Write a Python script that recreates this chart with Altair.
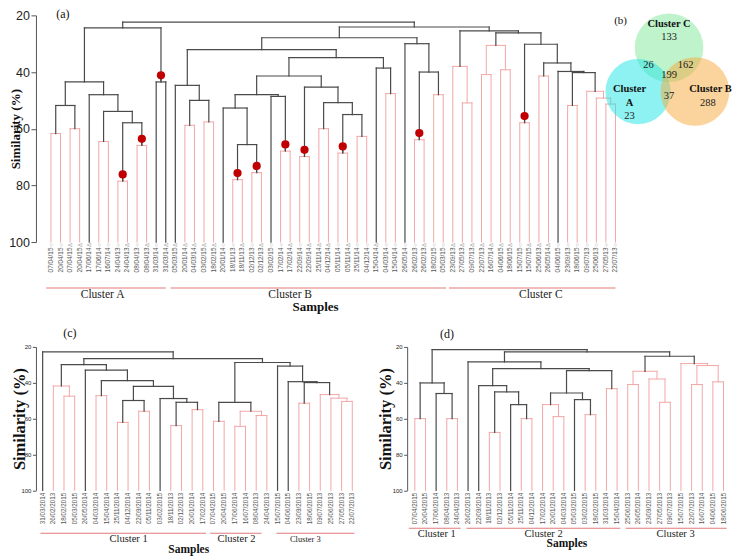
import math
import altair as alt
import pandas as pd

SERIF = "Liberation Serif"
SANS = "Liberation Sans"
DARK = "#4a4a4a"
PINK = "#f2a7a7"
RED = "#c00000"
LINE_RED = "#e07a7a"
AX = "#555555"

# ---------------- panel (a) data ----------------
A_DATES = ["07/04/15", "20/04/15", "07/04/15", "20/04/15", "17/06/14", "17/06/14", "16/07/14",
           "24/04/13", "24/04/13", "08/04/13", "08/04/13", "31/03/14", "31/03/14",
           "05/03/15", "20/01/14", "04/03/14", "03/02/15", "18/02/15", "20/01/14", "18/11/13",
           "18/11/13", "02/12/13", "02/12/13", "03/02/15", "17/02/14", "17/02/14", "22/09/14",
           "22/09/14", "25/11/14", "04/12/14", "05/11/14", "05/11/14", "25/11/14", "04/12/14",
           "15/04/14", "04/03/14", "15/04/14", "26/05/14", "26/02/13", "26/02/13", "18/02/15",
           "05/03/15",
           "23/09/13", "27/05/13", "09/07/13", "22/07/13", "16/07/14", "04/06/15", "18/06/15",
           "15/07/15", "15/07/15", "25/06/13", "26/05/14", "04/06/15", "23/09/13", "18/06/15",
           "09/07/13", "25/06/13", "27/05/13", "22/07/13"]
A_MARKS = list("ooDDDoooDoDoD" "DDDDDooDoDooDoDDDoDooDooooDoo" "DDDDDDDoDDDooooooo")

# (name, left, right, similarity, colour, red dot)
A_MERGES = [
    ("a1", 0, 1, 61.7, "p", 0), ("a2", 2, 3, 60.0, "p", 0), ("a3", "a1", "a2", 51.8, "k", 0),
    ("a4", 5, 6, 64.5, "p", 0), ("a5", 7, 8, 78.5, "p", 1), ("a6", 9, 10, 65.9, "p", 1),
    ("a7", "a5", "a6", 57.9, "k", 0), ("a8", "a4", "a7", 53.9, "k", 0),
    ("a9", 4, "a8", 48.0, "k", 0), ("a10", "a3", "a9", 43.5, "k", 0),
    ("a11", 11, 12, 43.5, "k", 1), ("A", "a10", "a11", 24.4, "k", 0),
    ("b1", 14, 15, 58.8, "p", 0), ("b2", 16, 17, 57.6, "p", 0), ("b3", "b1", "b2", 50.0, "k", 0),
    ("b4", 13, "b3", 44.7, "k", 0), ("b5", 19, 20, 78.0, "p", 1), ("b6", 21, 22, 75.5, "p", 1),
    ("b7", "b5", "b6", 65.6, "k", 0), ("b8", 18, "b7", 52.7, "k", 0),
    ("b9", 24, 25, 67.9, "p", 1), ("b10", 23, "b9", 48.6, "k", 0), ("b11", "b8", "b10", 48.0, "k", 0),
    ("b12", 26, 27, 69.8, "p", 1), ("b13", 28, 29, 60.0, "p", 0), ("b14", 30, 31, 68.6, "p", 1),
    ("b15", 32, 33, 62.7, "p", 0), ("b16", "b14", "b15", 55.0, "k", 0),
    ("b17", "b13", "b16", 50.8, "k", 0), ("b18", "b12", "b17", 45.3, "k", 0),
    ("b19", "b11", "b18", 41.4, "k", 0), ("b20", 35, 36, 47.6, "p", 0),
    ("b21", 34, "b20", 38.6, "k", 0), ("b22", "b19", "b21", 34.9, "k", 0),
    ("b23", "b4", "b22", 32.1, "k", 0), ("b24", 38, 39, 63.9, "p", 1),
    ("b25", 40, 41, 48.0, "p", 0), ("b26", "b24", "b25", 40.0, "k", 0),
    ("b27", 37, "b26", 30.0, "k", 0), ("B", "b23", "b27", 27.9, "k", 0),
    ("c1", 43, 44, 50.9, "p", 0), ("c2", 42, "c1", 38.0, "p", 0), ("c3", 45, 46, 40.9, "p", 0),
    ("c4", 47, 48, 39.2, "p", 0), ("c5", "c3", "c4", 30.6, "p", 0), ("c6", 49, 50, 57.9, "p", 1),
    ("c7", 51, 52, 41.4, "p", 0), ("c8", 54, 55, 51.8, "p", 0), ("c9", 58, 59, 51.3, "p", 0),
    ("c10", 57, "c9", 49.2, "p", 0), ("c11", 56, "c10", 46.8, "p", 0),
    ("c12", "c8", "c11", 40.2, "k", 0), ("c13", 53, "c12", 39.8, "k", 0),
    ("c14", "c7", "c13", 36.8, "k", 0), ("c15", "c6", "c14", 30.2, "k", 0),
    ("c16", "c5", "c15", 26.2, "k", 0), ("C", "c2", "c16", 25.5, "k", 0),
    ("BC", "B", "C", 24.1, "k", 0), ("root", "A", "BC", 22.4, "k", 0),
]
A_CLUSTERS = ["Cluster A", "Cluster B", "Cluster C"]
A_CL_START = [-0.5, 12.5, 41.6]
A_CL_END = [12.0, 41.3, 59.0]
A_CL_TEXT = [5.4, 25.0, 51.2]

# ---------------- panel (b) data ----------------
VENN_SETS = ["Cluster C", "Cluster A", "Cluster B"]
VENN_CX = [0.05, -0.75, 0.72]
VENN_CY = [0.75, -0.38, -0.38]
VENN_R = [1.0, 0.95, 1.0]
VENN_FILL = ["#7fe89a", "#1ee6e6", "#f7a83a"]
VENN_NUM = ["133", "26", "162", "199", "23", "37", "288"]
VENN_NUM_X = [0.05, -0.48, 0.48, 0.05, -0.97, 0.05, 1.05]
VENN_NUM_Y = [1.02, 0.3, 0.3, 0.05, -1.0, -0.5, -0.68]
VENN_LAB = ["Cluster C", "Cluster", "A", "Cluster B"]
VENN_LAB_X = [0.05, -0.97, -0.97, 1.12]
VENN_LAB_Y = [1.36, -0.32, -0.67, -0.32]

# ---------------- panel (c) data ----------------
C_DATES = ["31/03/2014", "26/02/2013", "18/02/2015", "05/03/2015", "26/05/2014", "04/03/2014",
           "15/04/2014", "25/11/2014", "04/12/2014", "22/09/2014", "05/11/2014", "03/02/2015",
           "18/11/2013", "02/12/2013", "20/01/2014", "17/02/2014", "07/04/2015", "20/04/2015",
           "17/06/2014", "16/07/2014", "08/04/2013", "24/04/2013", "15/07/2015", "04/06/2015",
           "23/09/2013", "18/06/2015", "09/07/2013", "25/06/2013", "27/05/2013", "22/07/2013"]
C_MERGES = [
    ("p1", 2, 3, 47.5, "p"), ("p2", 1, "p1", 41.8, "p"), ("p3", 5, 6, 47.2, "p"),
    ("p4", 7, 8, 62.1, "p"), ("p5", 9, 10, 55.9, "p"), ("p6", "p4", "p5", 49.9, "k"),
    ("p7", 12, 13, 63.9, "p"), ("p8", 14, 15, 55.0, "p"), ("p9", "p7", "p8", 50.9, "k"),
    ("p10", 11, "p9", 48.8, "k"), ("p11", "p6", "p10", 42.0, "k"), ("p12", "p3", "p11", 38.8, "k"),
    ("p13", 4, "p12", 33.0, "k"), ("p14", "p2", "p13", 29.9, "k"),
    ("p15", 16, 17, 61.5, "p"), ("p16", 18, 19, 64.3, "p"), ("p17", 20, 21, 58.3, "p"),
    ("p18", "p16", "p17", 55.9, "p"), ("p19", "p15", "p18", 50.9, "k"),
    ("p20", 24, 25, 51.4, "p"), ("p21", 28, 29, 50.4, "p"), ("p22", 27, "p21", 48.6, "p"),
    ("p23", 26, "p22", 46.6, "p"), ("p24", "p20", "p23", 39.9, "k"), ("p25", 23, "p24", 39.4, "k"),
    ("p26", 22, "p25", 30.7, "k"), ("p27", "p19", "p26", 28.7, "k"),
    ("p28", "p14", "p27", 26.5, "k"), ("p29", 0, "p28", 22.8, "k"),
]
C_CLUSTERS = ["Cluster 1", "Cluster 2", "Cluster 3"]
C_CL_START = [-0.2, 15.7, 21.9]
C_CL_END = [15.3, 20.5, 29.2]
C_CL_TEXT = [8.05, 18.15, 24.6]
C_CL_SIZE = [10.5, 10.5, 8.5]

# ---------------- panel (d) data ----------------
D_DATES = ["07/04/2015", "20/04/2015", "17/06/2014", "08/04/2013", "24/04/2013", "26/02/2013",
           "22/09/2014", "18/11/2013", "02/12/2013", "05/11/2014", "25/11/2014", "04/12/2014",
           "17/02/2014", "20/01/2014", "04/03/2014", "05/03/2015", "03/02/2015", "18/02/2015",
           "31/03/2014", "15/04/2014", "25/06/2013", "26/05/2014", "23/09/2013", "27/05/2013",
           "09/07/2013", "15/07/2015", "22/07/2013", "16/07/2014", "04/06/2015", "18/06/2015"]
D_MERGES = [
    ("d1", 0, 1, 60.0, "p"), ("d2", 3, 4, 60.0, "p"), ("d3", 2, "d2", 46.0, "k"),
    ("d4", "d1", "d3", 40.1, "k"), ("d5", 7, 8, 67.7, "p"), ("d6", 10, 11, 60.0, "p"),
    ("d7", 9, "d6", 52.2, "k"), ("d8", "d5", "d7", 45.1, "k"), ("d9", 6, "d8", 41.6, "k"),
    ("d10", 13, 14, 58.9, "p"), ("d11", 12, "d10", 52.2, "p"), ("d12", 16, 17, 57.8, "p"),
    ("d13", 15, "d12", 49.4, "k"), ("d14", "d11", "d13", 45.7, "k"), ("d15", 18, 19, 43.3, "p"),
    ("d16", "d14", "d15", 33.2, "k"), ("d17", "d9", "d16", 32.1, "k"), ("d18", 5, "d17", 28.4, "k"),
    ("d19", 20, 21, 41.0, "p"), ("d20", 23, 24, 50.9, "p"), ("d21", 22, "d20", 37.9, "p"),
    ("d22", "d19", "d21", 33.6, "p"), ("d23", 26, 27, 41.0, "p"), ("d24", 28, 29, 39.5, "p"),
    ("d25", "d23", "d24", 30.4, "p"), ("d26", 25, "d25", 29.3, "p"),
    ("d27", "d22", "d26", 25.2, "k"), ("d28", "d18", "d27", 22.8, "k"), ("d29", "d4", "d28", 21.5, "k"),
]
D_CLUSTERS = ["Cluster 1", "Cluster 2", "Cluster 3"]
D_CL_START = [-0.56, 4.85, 19.8]
D_CL_END = [4.3, 19.3, 29.3]
D_CL_TEXT = [2.06, 12.1, 24.5]

DOT_LIFT = 2.35
SYMBOLS = {"o": "\u25cb", "D": "\u0394"}


def build_tree(merges, n):
    pos = {i: float(i) for i in range(n)}
    hgt = {i: 100.0 for i in range(n)}
    segs, dots = [], []
    for m in merges:
        name, l, r, h, col = m[:5]
        dot = m[5] if len(m) > 5 else 0
        xl, xr = pos[l], pos[r]
        segs += [dict(x=xl, x2=xr, y=h, y2=h, c=col),
                 dict(x=xl, x2=xl, y=hgt[l], y2=h, c=col),
                 dict(x=xr, x2=xr, y=hgt[r], y2=h, c=col)]
        pos[name] = (xl + xr) / 2
        hgt[name] = h
        if dot:
            dots.append(dict(x=pos[name], y=h, yd=h - DOT_LIFT))
    df = pd.DataFrame(segs)
    df["o"] = (df["c"] == "k").astype(int)
    df = df.sort_values("o", kind="stable").reset_index(drop=True)
    return df, pd.DataFrame(dots)


def y_axis(H, fs, tick, title_fs, title_x):
    return alt.Axis(values=[20, 40, 60, 80, 100], grid=False, tickSize=tick, tickColor=AX,
                    domainColor=AX, tickWidth=1, domainWidth=1, labelFont=SANS,
                    labelFontSize=fs, labelColor="#222222", labelPadding=1.5,
                    title="Similarity (%)", titleFont=SERIF, titleFontSize=title_fs,
                    titleFontWeight="bold", titleColor="#111111", titleX=title_x, titleY=H / 2,
                    titleAlign="center", titleBaseline="middle", titleAngle=270)


def tree_layers(segs, xs, ys, yax):
    return alt.Chart(segs).mark_rule(strokeCap="square").encode(
        x=alt.X("x:Q", scale=xs, axis=None), x2="x2:Q",
        y=alt.Y("y:Q", scale=ys, axis=yax), y2="y2:Q",
        color=alt.Color("c:N", scale=alt.Scale(domain=["k", "p"], range=[DARK, PINK]), legend=None),
        strokeWidth=alt.StrokeWidth("c:N", scale=alt.Scale(domain=["k", "p"], range=[1.2, 1.0]),
                                    legend=None),
    )


def cluster_layers(names, starts, ends, centers, sizes, xs, H, line_dy, text_dy):
    df = pd.DataFrame(dict(name=names, s=starts, e=ends, m=centers, fs=sizes))
    lines = alt.Chart(df).mark_rule(color=LINE_RED, strokeWidth=1.2).encode(
        x=alt.X("s:Q", scale=xs, axis=None), x2="e:Q", y=alt.value(H + line_dy))
    texts = alt.Chart(df).mark_text(font=SERIF, color="#222222", baseline="middle").encode(
        x=alt.X("m:Q", scale=xs, axis=None), y=alt.value(H + text_dy), text="name:N",
        size=alt.Size("fs:Q", scale=None, legend=None))
    return [lines, texts]


def note(text, x, y, fs, bold=False):
    return alt.Chart(pd.DataFrame({"t": [text]})).mark_text(
        font=SERIF, fontSize=fs, fontWeight="bold" if bold else "normal", color="#111111",
        baseline="middle", align="center").encode(x=alt.value(x), y=alt.value(y), text="t:N")


# ================= panel (a) + (b) =================
W_A, H_A = 587, 227
xs_a = alt.Scale(domain=[-1.566, 59.7], nice=False, zero=False)
ys_a = alt.Scale(domain=[20, 100], reverse=True, nice=False, zero=False)
yax_a = y_axis(H_A, 12.5, 5, 13, -20)
segA, dotsA = build_tree(A_MERGES, len(A_DATES))
leafA = pd.DataFrame(dict(i=range(len(A_DATES)), date=A_DATES,
                          sym=[SYMBOLS[s] for s in A_MARKS]))

a_layers = [tree_layers(segA, xs_a, ys_a, yax_a)]
a_layers.append(alt.Chart(dotsA).mark_rule(color=DARK, strokeWidth=1.2).encode(
    x=alt.X("x:Q", scale=xs_a, axis=None), y=alt.Y("y:Q", scale=ys_a, axis=yax_a), y2="yd:Q"))
a_layers.append(alt.Chart(dotsA).mark_circle(size=68, color=RED, opacity=1).encode(
    x=alt.X("x:Q", scale=xs_a, axis=None), y=alt.Y("yd:Q", scale=ys_a, axis=yax_a)))
a_layers.append(alt.Chart(leafA).mark_text(angle=270, align="right", baseline="middle", font=SANS,
                                           fontSize=6, color="#999999").encode(
    x=alt.X("i:Q", scale=xs_a, axis=None), y=alt.value(H_A + 1), text="sym:N"))
a_layers.append(alt.Chart(leafA).mark_text(angle=270, align="right", baseline="middle", font=SANS,
                                           fontSize=6.4, color="#555555").encode(
    x=alt.X("i:Q", scale=xs_a, axis=None), y=alt.value(H_A + 5.5), text="date:N"))
a_layers += cluster_layers(A_CLUSTERS, A_CL_START, A_CL_END, A_CL_TEXT, [11.5] * 3, xs_a, H_A, 46, 53)
a_layers.append(note("Samples", 280, H_A + 65, 13, bold=True))
a_layers.append(note("(a)", 27, -1, 12))
dendro_a = alt.layer(*a_layers)

# Venn (b): unit = circle radius, placed by origin OX/OY inside panel (a) frame
U = 38.8
OX, OY = 632.0, 61.5
vx = alt.Scale(domain=[(0 - OX) / U, (W_A - OX) / U], nice=False, zero=False)
vy = alt.Scale(domain=[(OY - H_A) / U, OY / U], nice=False, zero=False)
venn_df = pd.DataFrame(dict(name=VENN_SETS, x=VENN_CX, y=VENN_CY, fill=VENN_FILL,
                            area=[math.pi * (r * U) ** 2 for r in VENN_R]))
num_df = pd.DataFrame(dict(t=VENN_NUM, x=VENN_NUM_X, y=VENN_NUM_Y))
lab_df = pd.DataFrame(dict(t=VENN_LAB, x=VENN_LAB_X, y=VENN_LAB_Y))
venn = alt.layer(
    alt.Chart(venn_df).mark_circle(opacity=0.5).encode(
        x=alt.X("x:Q", scale=vx, axis=None), y=alt.Y("y:Q", scale=vy, axis=None),
        size=alt.Size("area:Q", scale=None, legend=None),
        color=alt.Color("fill:N", scale=None, legend=None)),
    alt.Chart(num_df).mark_text(font=SERIF, fontSize=10.5, color="#222222", baseline="middle").encode(
        x=alt.X("x:Q", scale=vx, axis=None), y=alt.Y("y:Q", scale=vy, axis=None), text="t:N"),
    alt.Chart(lab_df).mark_text(font=SERIF, fontSize=10.5, fontWeight="bold", color="#111111",
                                baseline="middle").encode(
        x=alt.X("x:Q", scale=vx, axis=None), y=alt.Y("y:Q", scale=vy, axis=None), text="t:N"),
    alt.Chart(pd.DataFrame({"t": ["(b)"], "x": [-1.2], "y": [1.45]})).mark_text(
        font=SERIF, fontSize=11, color="#111111", baseline="middle").encode(
        x=alt.X("x:Q", scale=vx, axis=None), y=alt.Y("y:Q", scale=vy, axis=None), text="t:N"),
)
top = alt.layer(dendro_a, venn).resolve_scale(x="independent", y="independent").properties(
    width=W_A, height=H_A)


# ================= panels (c) and (d) =================
def small_panel(dates, merges, clusters, cs, ce, ct, csize, W, H, xdom, title_x, line_dy,
                text_dy, samp_x, samp_dy, tag, tag_x, tag_y):
    xs = alt.Scale(domain=xdom, nice=False, zero=False)
    ys = alt.Scale(domain=[20, 100], reverse=True, nice=False, zero=False)
    yax = y_axis(H, 6, 3.5, 16.5, title_x)
    segs, _ = build_tree(merges, len(dates))
    leaf = pd.DataFrame(dict(i=range(len(dates)), date=dates))
    layers = [tree_layers(segs, xs, ys, yax)]
    layers.append(alt.Chart(leaf).mark_text(angle=270, align="right", baseline="middle", font=SANS,
                                            fontSize=6.3, color="#555555").encode(
        x=alt.X("i:Q", scale=xs, axis=None), y=alt.value(H + 2.5), text="date:N"))
    layers += cluster_layers(clusters, cs, ce, ct, csize, xs, H, line_dy, text_dy)
    layers.append(note("Samples", samp_x, H + samp_dy, 11.5, bold=True))
    layers.append(note(tag, tag_x, tag_y, 12))
    return alt.layer(*layers).properties(width=W, height=H)


H_S = 143.6
panel_c = small_panel(C_DATES, C_MERGES, C_CLUSTERS, C_CL_START, C_CL_END, C_CL_TEXT, C_CL_SIZE,
                      323.5, H_S, [-0.627, 29.63], -16, 43, 49, 153, 59.5, "(c)", 34, -13.7)
panel_d = small_panel(D_DATES, D_MERGES, D_CLUSTERS, D_CL_START, D_CL_END, D_CL_TEXT, [10.5] * 3,
                      324.7, H_S, [-0.722, 29.74], -21.6, 38, 43.5, 160, 54, "(d)", 40, -12.7)

bottom = alt.hconcat(panel_c, panel_d, spacing=17.7)
chart = alt.vconcat(top, bottom, spacing=13).properties(padding=0).configure_view(stroke=None)
chart.save("out.html", embed_options={"renderer": "svg", "actions": False})
